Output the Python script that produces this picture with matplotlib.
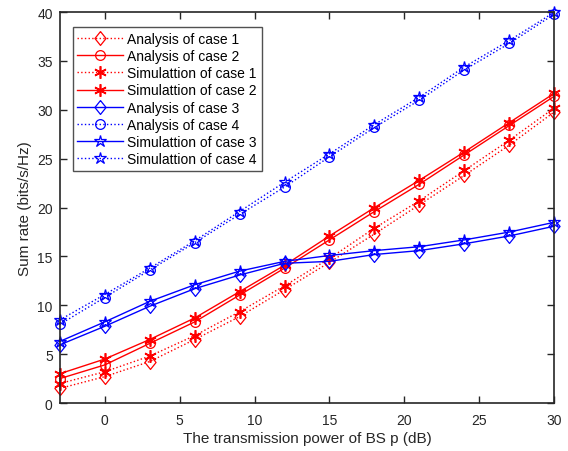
import matplotlib
matplotlib.use("Agg")
import matplotlib.pyplot as plt

plt.rcParams['font.family'] = ['Liberation Sans', 'DejaVu Sans']

# transmit power of the BS (dB)
p_db = [-3, 0, 3, 6, 9, 12, 15, 18, 21, 24, 27, 30]

# sum rate (bits/s/Hz)
ana_case1 = [1.5, 2.7, 4.25, 6.5, 8.85, 11.6, 14.4, 17.3, 20.3, 23.3, 26.4, 29.8]
ana_case2 = [2.5, 3.9, 6.1, 8.3, 11.05, 13.8, 16.7, 19.6, 22.4, 25.4, 28.4, 31.4]
sim_case1 = [2.0, 3.2, 4.8, 6.9, 9.35, 12.0, 14.8, 17.9, 20.7, 23.8, 26.9, 30.2]
sim_case2 = [3.0, 4.5, 6.5, 8.7, 11.4, 14.1, 17.1, 20.0, 22.8, 25.7, 28.7, 31.7]
ana_case3 = [5.95, 7.85, 9.9, 11.7, 13.1, 14.3, 14.5, 15.2, 15.6, 16.3, 17.1, 18.1]
ana_case4 = [8.05, 10.8, 13.6, 16.4, 19.3, 22.1, 25.2, 28.2, 31.0, 34.1, 36.8, 39.8]
sim_case3 = [6.3, 8.3, 10.4, 12.1, 13.5, 14.5, 15.1, 15.6, 16.0, 16.7, 17.5, 18.5]
sim_case4 = [8.5, 11.1, 13.8, 16.6, 19.6, 22.6, 25.5, 28.5, 31.3, 34.4, 37.1, 40.0]

fig = plt.figure(figsize=(5.68, 4.52), dpi=100)
ax = fig.add_axes([0.105, 0.106, 0.871, 0.865])

red = '#ff0000'
blue = '#0000ff'
base = dict(linewidth=1.0, markerfacecolor='none', clip_on=False)
# diamond a bit wider than matplotlib's 'd'
diamond = [(0, 1), (0.8, 0), (0, -1), (-0.8, 0), (0, 1)]

ax.plot(p_db, ana_case1, ':', color=red, marker=diamond, markersize=10,
        markeredgewidth=0.9, label='Analysis of case 1', **base)
ax.plot(p_db, ana_case2, '-', color=red, marker='o', markersize=7,
        markeredgewidth=0.9, label='Analysis of case 2', **base)
ax.plot(p_db, sim_case1, ':', color=red, marker=(6, 2, 0), markersize=9,
        markeredgewidth=1.2, label='Simulattion of case 1', **base)
ax.plot(p_db, sim_case2, '-', color=red, marker=(6, 2, 0), markersize=9,
        markeredgewidth=1.2, label='Simulattion of case 2', **base)
ax.plot(p_db, ana_case3, '-', color=blue, marker=diamond, markersize=10,
        markeredgewidth=0.9, label='Analysis of case 3', **base)
ax.plot(p_db, ana_case4, ':', color=blue, marker='o', markersize=7,
        markeredgewidth=0.9, label='Analysis of case 4', **base)
ax.plot(p_db, sim_case3, '-', color=blue, marker='*', markersize=9,
        markeredgewidth=0.9, label='Simulattion of case 3', **base)
ax.plot(p_db, sim_case4, ':', color=blue, marker='*', markersize=9,
        markeredgewidth=0.9, label='Simulattion of case 4', **base)

ax.set_xlim(-3, 30)
ax.set_ylim(0, 40)
ax.set_xticks([0, 5, 10, 15, 20, 25, 30])
ax.set_yticks(range(0, 41, 5))
ax.tick_params(direction='in', length=5, width=1.0, labelsize=10,
               top=True, right=True, colors='#262626', labelcolor='#262626')
ax.tick_params(axis='x', pad=7)
ax.tick_params(axis='y', pad=5)
for s in ax.spines.values():
    s.set_linewidth(1.2)
    s.set_color('#262626')

ax.set_xlabel('The transmission power of BS p (dB)', fontsize=11,
              color='#262626', labelpad=3)
ax.set_ylabel('Sum rate (bits/s/Hz)', fontsize=11, color='#262626')

leg = ax.legend(loc='upper left', bbox_to_anchor=(0.026, 0.962), fontsize=10,
                frameon=True, fancybox=False, edgecolor='#262626',
                handlelength=3.3, handletextpad=0.3, labelspacing=0.23,
                borderpad=0.35, borderaxespad=0.0)
leg.get_frame().set_linewidth(1.0)

fig.savefig('out.png', dpi=100)
